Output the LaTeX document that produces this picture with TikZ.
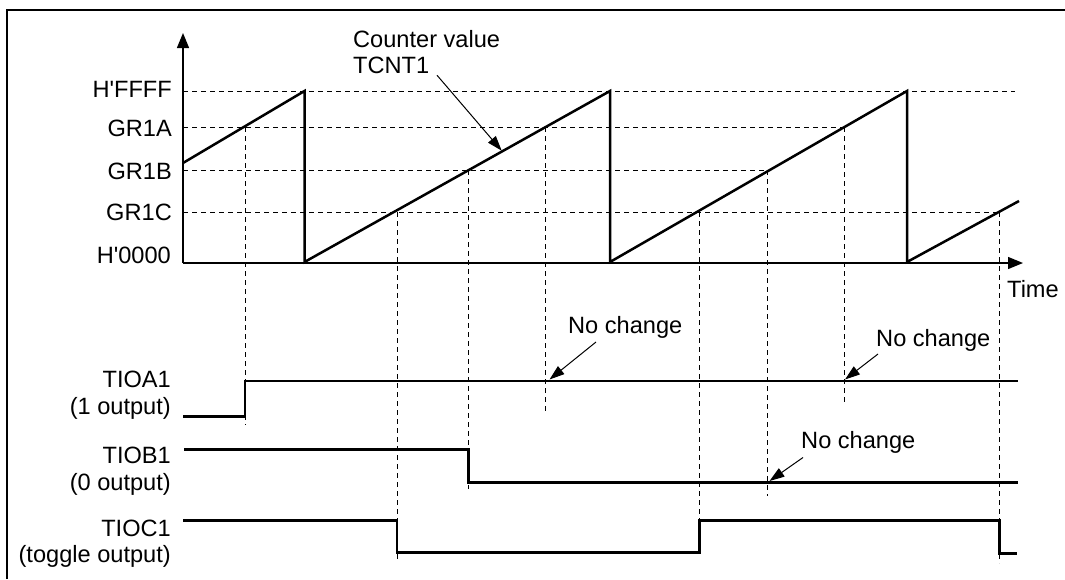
\documentclass[tikz,border=0pt]{standalone}
\usepackage{fontspec}
\setmainfont{Liberation Sans}
\usetikzlibrary{arrows.meta}

\begin{document}
\begin{tikzpicture}[
        x=1pt, y=-1pt,
        font=\fontsize{23.6}{26.5}\selectfont,
        axisarr/.style={line width=1.3pt, -{Triangle[length=15pt, width=12pt]}},
        lvl/.style={dash pattern=on 5pt off 4pt, line width=1pt},
        guide/.style={dash pattern=on 5pt off 4pt, line width=1pt},
        wave/.style={line width=2.5pt, line join=miter},
        note/.style={-{Triangle[length=15pt, width=10pt]}, line width=1pt},
        lbl/.style={anchor=east, inner sep=0pt, align=right},
        txt/.style={anchor=base west, inner sep=0pt}
    ]
    \useasboundingbox (0,0) rectangle (1065,579);
    \draw[line width=1.8pt] (7,579) -- (7,10) -- (1065,10);

    % counter levels
    \node[lbl] (ffff) at (172,89) {H\textquotesingle FFFF};
    \node[lbl] (gra) at (172,128) {GR1A};
    \node[lbl] (grb) at (172,171) {GR1B};
    \node[lbl] (grc) at (172,212) {GR1C};
    \node[lbl] (zero) at (171,255) {H\textquotesingle 0000};

    \draw[lvl] (183,91) -- (1015,91);
    \draw[lvl] (183,127) -- (844,127);
    \draw[lvl] (183,170) -- (767,170);
    \draw[lvl] (183,212) -- (999.5,212);

    \foreach \x/\ya/\yb in {245/127/425, 397/212/562, 468.5/170/489,
                            545/127/412, 699.5/212/552, 767/170/496,
                            844/127/405, 999.5/212/563}
        \draw[guide] (\x,\ya) -- (\x,\yb);

    \draw[axisarr] (183,263) -- (183,33);
    \draw[axisarr] (183,263) -- (1023,263);
    \node[txt] (time) at (1007,297) {Time};

    % TCNT1
    \draw[wave] (183,163) -- (304.5,91) -- (304.5,262) -- (610,91) -- (610,262)
        -- (907,91) -- (907,262) -- (1019,201);

    \node[anchor=north west, inner sep=0pt, align=left] (cnt) at (353,30) {Counter value\\TCNT1};
    \coordinate (cntTip) at (501.7,150.7);
    \draw[note] ([shift={(84,1)}]cnt.south west) -- (cntTip);

    % outputs
    \node[lbl] (tioa) at (171,395) {TIOA1\\(1 output)};
    \node[lbl] (tiob) at (171,471) {TIOB1\\(0 output)};
    \node[lbl] (tioc) at (171,543.5) {TIOC1\\(toggle output)};

    \draw[wave] (183,416.5) -- (245,416.5) -- (245,381) -- (1018,381);
    \draw[wave] (184,449.5) -- (468.5,449.5) -- (468.5,482.5) -- (1018,482.5);
    \draw[wave] (183,520.5) -- (397,520.5) -- (397,552.5) -- (699.5,552.5)
        -- (699.5,520.5) -- (999.5,520.5) -- (999.5,553.5) -- (1017,553.5);

    % no change
    \node[txt] (ncA) at (568,333) {No change};
    \node[txt] (ncB) at (876,346) {No change};
    \node[txt] (ncC) at (801,448.5) {No change};
    \coordinate (ncAtip) at (549.5,379.5);
    \coordinate (ncBtip) at (845,379.5);
    \coordinate (ncCtip) at (769.5,481);
    \draw[note] ([shift={(28,9)}]ncA.base west) -- (ncAtip);
    \draw[note] ([shift={(2,8)}]ncB.base west) -- (ncBtip);
    \draw[note] ([shift={(2,9)}]ncC.base west) -- (ncCtip);
\end{tikzpicture}
\end{document}
